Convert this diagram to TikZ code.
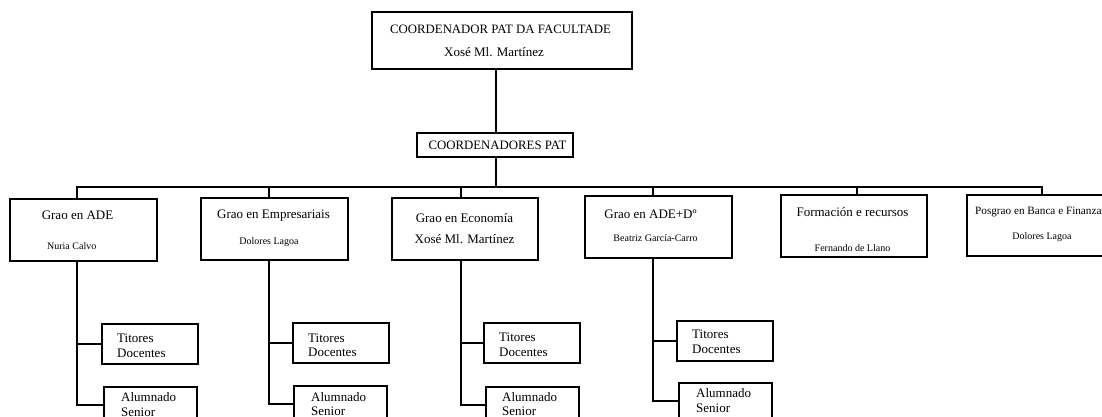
\documentclass[tikz,border=0pt]{standalone}
\usepackage{fontspec}
\setmainfont{Liberation Serif}
\begin{document}
\begin{tikzpicture}[x=1pt,y=-1pt,
  box/.style={draw, line width=2pt, inner sep=0pt, rectangle},
  conn/.style={line width=2pt},
  big/.style={inner sep=0pt, font=\fontsize{13}{15}\selectfont},
  head/.style={inner sep=0pt, font=\fontsize{12.8}{15}\selectfont},
  small/.style={inner sep=0pt, font=\fontsize{10}{12}\selectfont},
  two/.style={inner sep=0pt, anchor=west, align=left, font=\fontsize{13}{14.5}\selectfont},
  sub/.style={box, minimum width=96pt, minimum height=40pt},
  alu/.style={box, minimum width=93pt, minimum height=36pt},
  grao/.style={box, minimum width=147pt, minimum height=62pt}]
\useasboundingbox (0,0) rectangle (1102,416);
\clip (0,0) rectangle (1102,416);
\fill[white] (0,0) rectangle (1102,416);

% top
\node[box, minimum width=260pt, minimum height=57pt] (top) at (502,40.5) {};
\node[head] (topA) at (500.5,29) {COORDENADOR PAT DA FACULTADE};
\node[big] (topB) at (494,52) {Xosé Ml. Martínez};
\node[box, minimum width=156pt, minimum height=24pt] (cp) at (495,145) {};
\node[head] (cpT) at (497.5,145) {COORDENADORES PAT};

% level 2 boxes
\node[grao] (g1) at (83.5,230) {};
\node[big] (g1a) at (77.5,215) {Grao en ADE};
\node[small] (g1b) at (71.7,246) {Nuria Calvo};

\node[grao] (g2) at (274.5,229) {};
\node[big] (g2a) at (273.5,216) {Grao en Empresariais};
\node[small] (g2b) at (269,242) {Dolores Lagoa};

\node[grao, minimum width=146pt] (g3) at (465,229) {};
\node[big] (g3a) at (464.5,218) {Grao en Economía};
\node[big] (g3b) at (464.5,239) {Xosé Ml. Martínez};

\node[grao] (g4) at (658.5,227) {};
\node[big] (g4a) at (650.5,214) {Grao en ADE+Dº};
\node[small] (g4b) at (655.5,238) {Beatriz García-Carro};

\node[grao, minimum width=146pt] (g5) at (854,226) {};
\node[big] (g5a) at (852.5,212) {Formación e recursos};
\node[small] (g5b) at (852.5,248) {Fernando de Llano};

\node[grao, minimum width=168pt, minimum height=61pt] (g6) at (1051,225) {};
\node[inner sep=0pt, anchor=west, font=\fontsize{11.2}{13}\selectfont] (g6a) at (975,212) {Posgrao en Banca e Finanzas};
\node[small] (g6b) at (1042,237) {Dolores Lagoa};

% sub boxes
\node[sub] (t1) at (150,344) {};
\node[two] (t1x) at (117,346) {Titores\\Docentes};
\node[alu] (a1) at (150.5,405) {};
\node[two] (a1x) at (121,404.5) {Alumnado\\Senior};

\node[sub] (t2) at (341,343) {};
\node[two] (t2x) at (308,345.5) {Titores\\Docentes};
\node[alu] (a2) at (340.5,404) {};
\node[two] (a2x) at (311,404) {Alumnado\\Senior};

\node[sub] (t3) at (532,343) {};
\node[two] (t3x) at (499,345) {Titores\\Docentes};
\node[alu] (a3) at (532,405) {};
\node[two] (a3x) at (502,404) {Alumnado\\Senior};

\node[sub] (t4) at (725,341) {};
\node[two] (t4x) at (692,342) {Titores\\Docentes};
\node[alu] (a4) at (725.5,401) {};
\node[two] (a4x) at (696,400.5) {Alumnado\\Senior};

% connectors
\coordinate (j0) at (496,187);
\coordinate (k1) at (76.5,187);
\coordinate (k2) at (268.5,187);
\coordinate (k3) at (460.5,187);
\coordinate (k4) at (652.5,187);
\coordinate (k5) at (857,187);
\coordinate (k6) at (1042,187);

\draw[conn] (top.south -| j0) -- (cp.north -| j0);
\draw[conn] (cp.south -| j0) -- (j0);
\draw[conn] (g1.north -| k1) -- (k1) -- (k6) -- (g6.north -| k6);
\draw[conn] (k2) -- (g2.north -| k2);
\draw[conn] (k3) -- (g3.north -| k3);
\draw[conn] (k4) -- (g4.north -| k4);
\draw[conn] (k5) -- (g5.north -| k5);

\draw[conn] (g1.south -| k1) |- (a1.west);
\draw[conn] (k1 |- t1.west) -- (t1.west);
\draw[conn] (g2.south -| k2) |- (a2.west);
\draw[conn] (k2 |- t2.west) -- (t2.west);
\draw[conn] (g3.south -| k3) |- (a3.west);
\draw[conn] (k3 |- t3.west) -- (t3.west);
\draw[conn] (g4.south -| k4) |- (a4.west);
\draw[conn] (k4 |- t4.west) -- (t4.west);
\end{tikzpicture}
\end{document}
